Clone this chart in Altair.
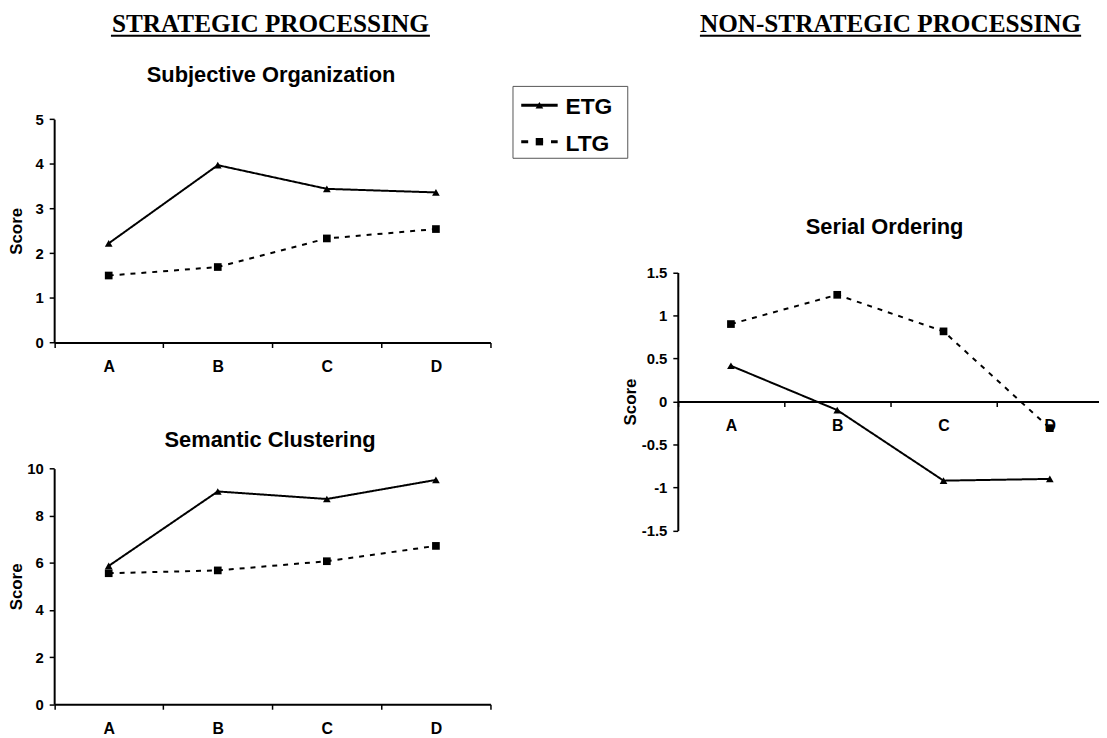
import altair as alt
import pandas as pd

# ---------------- data ----------------
CATEGORIES = ["A", "B", "C", "D"]
GROUPS = ["ETG", "LTG"]

SUBJ_ETG = [2.22, 3.97, 3.44, 3.36]
SUBJ_LTG = [1.50, 1.69, 2.33, 2.54]

SEM_ETG = [5.87, 9.03, 8.71, 9.52]
SEM_LTG = [5.56, 5.68, 6.07, 6.72]

SER_ETG = [0.415, -0.10, -0.92, -0.90]
SER_LTG = [0.90, 1.24, 0.815, -0.31]

SUBJ_TICKS = [0, 1, 2, 3, 4, 5]
SEM_TICKS = [0, 2, 4, 6, 8, 10]
SER_TICKS = [-1.5, -1, -0.5, 0, 0.5, 1, 1.5]

HEADER_LEFT = "STRATEGIC PROCESSING"
HEADER_RIGHT = "NON-STRATEGIC PROCESSING"
TITLE_SUBJ = "Subjective Organization"
TITLE_SEM = "Semantic Clustering"
TITLE_SER = "Serial Ordering"
Y_TITLE = "Score"

# ---------------- layout ----------------
W, H = 1099, 730
SANS = "Liberation Sans"
SERIF = "Liberation Serif"


def panel(etg, ltg, x_range, y_range, y_domain, y_ticks, x_axis_y, y_axis_x, score_x):
    df = pd.DataFrame({
        "cat": CATEGORIES * 2,
        "group": ["ETG"] * len(CATEGORIES) + ["LTG"] * len(CATEGORIES),
        "score": list(etg) + list(ltg),
    })
    x = alt.X(
        "cat:N", sort=CATEGORIES, bandPosition=0.5,
        scale=alt.Scale(type="band", domain=CATEGORIES, range=x_range,
                        paddingInner=0, paddingOuter=0),
        axis=alt.Axis(title=None, orient="bottom", offset=x_axis_y - H,
                      tickBand="extent", labelAngle=0, tickSize=5, labelPadding=11,
                      labelFontSize=16, domainWidth=2, tickWidth=1.5),
    )
    y = alt.Y(
        "score:Q",
        scale=alt.Scale(domain=y_domain, range=y_range, nice=False, zero=False),
        axis=alt.Axis(title=Y_TITLE, orient="left", offset=-y_axis_x, values=y_ticks,
                      labelExpr="'' + datum.value", tickSize=5, labelPadding=6,
                      labelFontSize=15, domainWidth=2, tickWidth=1.5,
                      titleX=score_x - y_axis_x, titleBaseline="middle",
                      titleFontSize=17),
    )
    line = alt.Chart(df).mark_line(color="black", strokeWidth=2).encode(
        x=x, y=y,
        strokeDash=alt.StrokeDash("group:N",
                                  scale=alt.Scale(domain=GROUPS, range=[[1, 0], [5, 6]]),
                                  legend=None),
        detail="group:N",
    )
    pts = alt.Chart(df).mark_point(filled=True, color="black", opacity=1, size=60).encode(
        x=x, y=y,
        shape=alt.Shape("group:N",
                        scale=alt.Scale(domain=GROUPS, range=["triangle-up", "square"]),
                        legend=None),
    )
    return alt.layer(line, pts)


p1 = panel(SUBJ_ETG, SUBJ_LTG, [46.5, 486], [334.3, 109.3], [0, 5], SUBJ_TICKS,
           334.3, 46.5, 9)
p2 = panel(SEM_ETG, SEM_LTG, [46.5, 486], [698.7, 461.3], [0, 10], SEM_TICKS,
           698.7, 46.5, 9)
p3 = panel(SER_ETG, SER_LTG, [674.7, 1103], [523.7, 263.7], [-1.5, 1.5], SER_TICKS,
           393.7, 674.7, 627.5)


def text_layer(txt, x, y, size, font, weight="bold"):
    return alt.Chart(pd.DataFrame({"t": [txt]})).mark_text(
        font=font, fontSize=size, fontWeight=weight, align="center",
        baseline="alphabetic", color="black",
    ).encode(x=alt.value(x), y=alt.value(y), text="t:N")


one = alt.Data(values=[{}])

titles = [
    text_layer(HEADER_LEFT, 264.3, 21.3, 25.4, SERIF),
    text_layer(HEADER_RIGHT, 889, 21.3, 25.4, SERIF),
    text_layer(TITLE_SUBJ, 265, 72, 22, SANS),
    text_layer(TITLE_SEM, 264, 440, 22, SANS),
    text_layer(TITLE_SER, 883, 225.3, 22, SANS),
]
underlines = [
    alt.Chart(one).mark_rule(color="black", strokeWidth=2).encode(
        x=alt.value(103.7), x2=alt.value(425), y=alt.value(25.3)),
    alt.Chart(one).mark_rule(color="black", strokeWidth=2).encode(
        x=alt.value(697), x2=alt.value(1081), y=alt.value(25.3)),
]

# ---------------- legend ----------------
legend_df = pd.DataFrame({"group": GROUPS})
ly = alt.Y("group:N", scale=alt.Scale(type="point", domain=GROUPS, range=[95.3, 132],
                                      padding=0), axis=None)
legend_box = alt.Chart(one).mark_rect(fill="white", stroke="#555555", strokeWidth=1).encode(
    x=alt.value(508.7), x2=alt.value(624.3), y=alt.value(76.3), y2=alt.value(148.7))
leg_solid = alt.Chart(legend_df).transform_filter("datum.group == 'ETG'").mark_rule(
    color="black", strokeWidth=3).encode(x=alt.value(517), x2=alt.value(553.7), y=ly)
leg_dash = alt.Chart(legend_df).transform_filter("datum.group == 'LTG'").mark_rule(
    color="black", strokeWidth=3, strokeDash=[7, 8]).encode(
    x=alt.value(517), x2=alt.value(553.7), y=ly)
leg_tri = alt.Chart(legend_df).transform_filter("datum.group == 'ETG'").mark_point(
    filled=True, color="black", opacity=1, shape="triangle-up", size=60).encode(
    x=alt.value(535.3), y=ly)
leg_sq = alt.Chart(legend_df).transform_filter("datum.group == 'LTG'").mark_point(
    filled=True, color="black", opacity=1, shape="square", size=55).encode(
    x=alt.value(535.3), y=ly)
leg_text = alt.Chart(legend_df).mark_text(
    font=SANS, fontSize=23, fontWeight="bold", align="left", baseline="alphabetic",
    dy=9, color="black").encode(x=alt.value(561.5), y=ly, text="group:N")

chart = alt.layer(
    p1, p2, p3, *titles, *underlines,
    legend_box, leg_solid, leg_dash, leg_tri, leg_sq, leg_text,
).resolve_scale(x="independent", y="independent").properties(
    width=W, height=H, autosize=alt.AutoSizeParams(type="none"), padding=0,
).configure_view(stroke=None).configure_axis(
    grid=False, labelFont=SANS, labelFontWeight="bold", labelColor="black",
    titleFont=SANS, titleFontWeight="bold", titleColor="black",
    domainColor="black", tickColor="black",
)

chart.save("out.html", embed_options={"renderer": "svg", "actions": False})
